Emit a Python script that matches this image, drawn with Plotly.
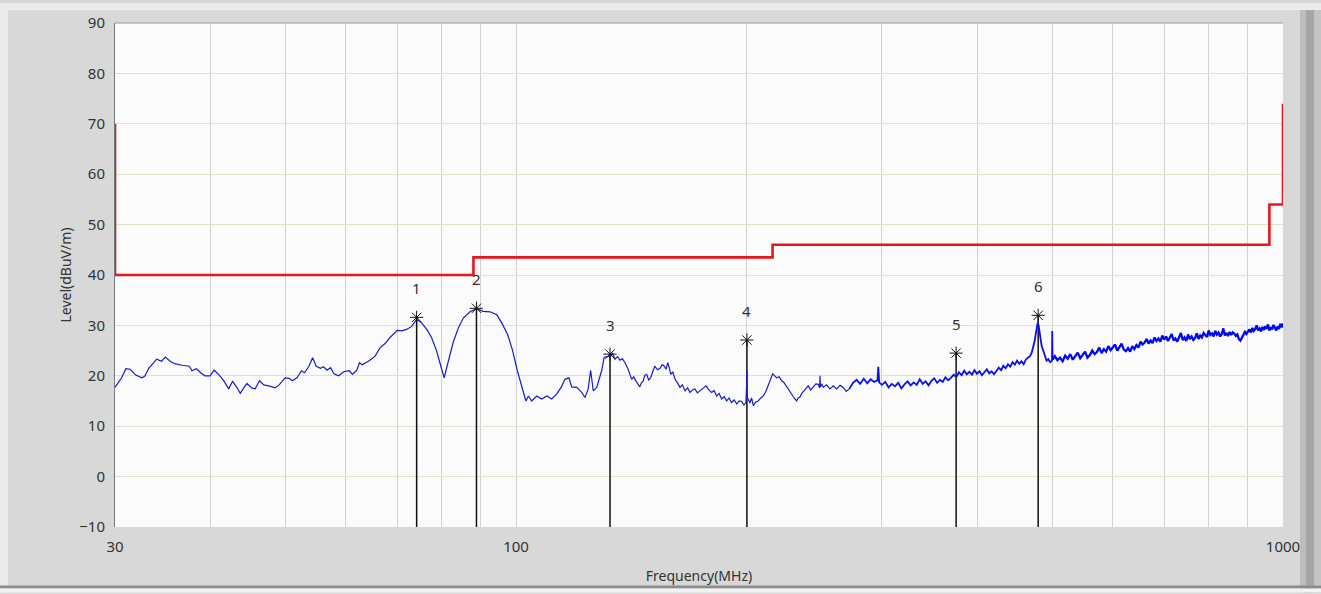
import math
import plotly.graph_objects as go

# ---------------------------------------------------------------------------
# Measured spectrum (frequency in MHz, level in dBuV/m), split by band
# ---------------------------------------------------------------------------
freq_a = [30.0, 30.3, 30.6, 31.0, 31.4, 31.9, 32.5, 32.8, 33.2, 33.7,
          34.0, 34.5, 34.9, 35.4, 35.9, 36.7, 37.5, 37.8, 38.3, 38.8,
          39.3, 39.9, 40.4, 41.0, 41.6, 42.2, 42.7, 43.3, 43.7, 44.2,
          44.6, 45.2, 45.7, 46.3, 46.9, 47.6, 48.5, 49.1, 50.0, 50.6,
          51.1, 51.8, 52.5, 53.0, 53.7, 54.3, 54.9, 55.6, 56.1, 56.7,
          57.3, 57.9, 58.7, 59.6, 60.6, 61.2, 62.0, 62.5, 63.0]
level_a = [17.7, 18.7, 19.6, 21.4, 21.3, 20.2, 19.6, 19.9, 21.5, 22.6,
           23.3, 22.9, 23.7, 22.9, 22.4, 22.1, 21.9, 21.0, 21.4, 20.6,
           20.0, 20.0, 21.1, 20.2, 19.0, 17.4, 18.9, 17.6, 16.5, 17.7,
           18.5, 17.6, 17.4, 19.0, 18.2, 18.0, 17.6, 18.2, 19.6, 19.5,
           19.0, 19.6, 21.0, 20.6, 21.9, 23.6, 21.9, 21.5, 21.8, 21.1,
           21.6, 20.4, 20.0, 20.8, 21.0, 20.3, 21.1, 22.6, 22.2]

freq_b = [64.2, 65.5, 66.5, 67.5, 68.5, 69.5, 70.0, 71.0, 72.0, 73.1,
          74.2, 75.3, 76.5, 77.6, 78.8, 79.8, 80.6, 81.2, 82.0, 82.8,
          84.1, 85.4, 87.1, 88.8, 90.6, 92.5, 94.4, 95.8, 97.5, 98.9,
          100.4, 101.7, 103.0, 103.8, 104.8, 106.4, 108.0, 109.7, 111.3, 113.0,
          114.5, 115.8, 117.2, 118.2, 120.0, 121.8, 123.0, 124.2, 125.1, 126.1,
          127.4, 129.3, 130.3]
level_b = [22.9, 23.9, 25.6, 26.4, 27.6, 28.5, 29.0, 28.9, 29.2, 29.8,
           31.2, 30.5, 29.2, 27.6, 24.9, 21.9, 19.6, 21.6, 24.3, 26.6,
           29.5, 31.5, 32.7, 33.3, 32.8, 32.7, 32.1, 30.5, 28.2, 25.2,
           21.0, 18.0, 15.0, 16.0, 15.0, 16.0, 15.4, 16.0, 15.4, 16.4,
           17.7, 19.3, 19.6, 17.8, 17.7, 16.7, 15.7, 17.4, 21.1, 17.0,
           17.7, 21.0, 23.7]

freq_c = [132.6, 133.6, 134.6, 135.6, 136.6, 137.6, 138.7, 140.0, 141.5, 142.4,
          143.3, 144.2, 145.0, 145.7, 146.5, 147.2, 148.0, 148.9, 149.8, 150.7,
          151.7, 152.9, 154.1, 155.1, 156.1, 156.9, 157.7, 158.4, 159.1, 160.1,
          161.2, 162.4, 163.6, 164.8, 166.1, 167.4, 168.6, 169.9, 171.1, 172.4,
          173.7, 175.3, 176.9, 178.4, 179.9, 181.2, 182.6, 184.0, 185.4, 186.8,
          188.2, 189.6, 191.0, 192.5, 194.0, 195.4, 196.9, 198.2, 199.4, 199.8,
          200.0, 200.2, 200.8, 201.8, 202.8, 203.9, 205.4, 206.9, 208.5, 210.1,
          211.7, 213.3, 214.7, 216.1, 217.4, 218.7, 220.3, 222.0, 223.7, 225.4,
          227.1, 228.8, 230.5, 232.2, 233.3, 234.5, 236.0, 237.4, 238.9, 240.4,
          242.2, 244.1, 246.0, 247.8, 248.8, 249.1, 249.4, 250.4, 251.5, 254.0,
          256.6, 259.2, 261.8, 264.5, 267.1, 269.5, 272.0]
level_c = [23.9, 24.4, 23.3, 23.8, 23.1, 23.4, 22.6, 21.3, 19.3, 19.8,
           19.0, 18.4, 17.8, 18.6, 19.0, 20.1, 20.3, 19.2, 19.6, 20.8,
           21.9, 21.2, 21.5, 22.2, 21.9, 21.3, 22.6, 21.6, 20.3, 20.8,
           19.3, 18.6, 17.7, 18.2, 17.0, 17.6, 16.7, 17.2, 17.4, 16.6,
           17.0, 17.6, 18.0, 17.2, 16.7, 17.1, 16.0, 16.5, 15.4, 15.9,
           15.0, 15.6, 14.7, 15.2, 14.4, 15.0, 14.9, 14.2, 14.7, 18.0,
           21.0, 15.8, 15.4, 14.6, 15.6, 14.1, 14.8, 15.0, 15.6, 16.0,
           16.9, 18.3, 19.4, 20.4, 20.0, 19.6, 19.8, 19.0, 18.6, 17.8,
           17.2, 16.4, 15.6, 15.0, 15.6, 15.8, 16.6, 17.0, 17.6, 18.0,
           17.2, 17.7, 18.4, 18.3, 17.6, 20.0, 17.8, 18.4, 17.7, 18.2,
           17.4, 18.0, 17.4, 18.1, 17.7, 16.9, 17.4]

freq_d = [275.0, 278.0, 281.0, 284.0, 287.0, 290.0, 293.0, 296.0, 296.7, 297.5,
          300.0, 303.0, 306.0, 309.0, 312.0, 315.0, 318.0, 321.0, 324.0, 327.0,
          330.0, 333.0, 336.0, 339.0, 342.0, 345.0, 348.0, 351.0, 354.0, 357.0,
          360.0, 363.0, 366.0, 369.0, 372.0, 375.0, 378.0, 381.0, 384.0, 387.0,
          390.0, 393.0, 396.0, 399.0, 402.0, 405.0, 408.0, 411.0, 414.0, 417.0,
          420.0, 423.0, 426.0, 429.0, 432.0, 435.0, 438.0, 441.0, 444.0, 447.0,
          450.0, 453.0, 456.0, 459.0, 462.0, 465.0, 467.9, 470.3, 472.6, 474.3,
          475.9, 477.4, 478.8, 480.2, 481.7, 483.1, 484.6, 487.0, 489.4, 491.8,
          494.3, 497.2, 499.8, 500.2, 500.6]
level_d = [18.6, 19.2, 18.4, 19.4, 18.5, 19.3, 18.8, 19.1, 21.8, 18.7,
           18.2, 18.8, 17.7, 18.4, 17.9, 18.6, 17.5, 18.3, 18.9, 18.1,
           18.7, 18.2, 19.3, 18.4, 18.9, 18.1, 19.0, 19.5, 18.6, 19.2,
           18.8, 19.7, 19.1, 19.6, 20.2, 19.8, 20.7, 20.1, 21.0, 20.3,
           20.8, 20.2, 21.1, 20.4, 20.9, 20.1, 20.6, 21.3, 20.5, 20.9,
           20.3, 21.0, 21.6, 21.1, 22.0, 21.5, 22.3, 21.8, 22.7, 22.2,
           23.0, 22.4, 22.9, 22.3, 23.2, 23.6, 23.9, 24.6, 25.6, 26.8,
           28.2, 29.6, 30.5, 30.0, 28.9, 27.2, 25.9, 24.8, 23.9, 23.0,
           23.3, 22.7, 23.0, 28.9, 23.2]

freq_e = [504, 508, 512, 516, 520, 524, 528, 532, 536, 540,
          544, 548, 552, 556, 560, 564, 568, 572, 576, 580,
          584, 588, 592, 596, 600, 604, 608, 612, 616, 620,
          624, 628, 632, 636, 640, 644, 648, 652, 656, 660,
          664, 668, 672, 676, 680, 684, 688, 692, 696, 700,
          704, 708, 712, 716, 720, 724, 728, 732, 736, 740,
          744, 748, 752, 756, 760, 764, 768, 772, 776, 780,
          784, 788, 792, 796, 800, 804, 808, 812, 816, 820,
          824, 828, 832, 836, 840, 844, 848, 852, 856, 860,
          864, 868, 872, 876, 880, 884, 888, 892, 896, 900,
          904, 908, 912, 916, 920, 924, 928, 932, 936, 940,
          944, 948, 952, 956, 960, 964, 968, 972, 976, 980,
          984, 988, 992, 996, 1000]
level_e = [23.9, 23.1, 23.6, 22.9, 24.0, 23.4, 24.3, 23.2, 23.8, 24.6,
           23.5, 24.2, 24.8, 23.6, 24.1, 25.0, 24.3, 24.7, 25.6, 24.5,
           25.3, 24.8, 25.9, 25.1, 25.6, 26.2, 25.0, 25.7, 26.4, 25.2,
           24.9, 25.5, 24.8, 25.9, 25.3, 26.1, 25.6, 26.8, 26.2, 26.6,
           27.3, 26.4, 27.0, 26.5, 27.6, 26.9, 27.4, 26.8, 28.0, 27.2,
           27.8, 26.9, 27.5, 28.3, 27.0, 27.4, 26.8, 27.7, 28.5, 27.1,
           27.6, 26.9, 28.2, 27.3, 27.8, 27.1, 27.5, 28.4, 27.3, 28.0,
           27.6, 28.5, 28.0, 27.7, 29.0, 28.1, 28.4, 27.8, 28.9, 28.2,
           28.6, 27.8, 28.3, 29.4, 28.0, 28.5, 27.9, 28.7, 28.1, 28.6,
           28.4, 27.9, 28.2, 27.3, 27.0, 27.6, 28.0, 28.7, 28.3, 28.9,
           29.2, 28.6, 29.5, 28.9, 29.3, 30.0, 29.0, 29.4, 28.8, 29.7,
           29.1, 29.8, 29.3, 30.2, 29.0, 29.6, 29.2, 30.1, 29.4, 29.0,
           29.8, 29.3, 30.3, 29.6, 30.4]

# Limit line (stepped), MHz / dBuV/m
limit_freq = [30, 30, 88, 88, 216, 216, 960, 960, 1000, 1000]
limit_level = [70, 40, 40, 43.5, 43.5, 46, 46, 54, 54, 74]

# Peak markers
marker_no = ["1", "2", "3", "4", "5", "6"]
marker_freq = [74.2, 88.8, 132.6, 200.0, 374.8, 479.5]
marker_level = [31.6, 33.4, 24.3, 27.1, 24.5, 32.0]

# Axis ticks
x_grid = [30, 40, 50, 60, 70, 80, 90, 100, 200, 300, 400, 500, 600, 700, 800, 900, 1000]
x_labels = ["30", "", "", "", "", "", "", "100", "", "", "", "", "", "", "", "", "1000"]
y_ticks = [-10, 0, 10, 20, 30, 40, 50, 60, 70, 80, 90]

low_freq = freq_a + freq_b + freq_c
low_level = level_a + level_b + level_c
mid_freq = [freq_c[-1]] + freq_d
mid_level = [level_c[-1]] + level_d
high_freq = [freq_d[-1]] + freq_e
high_level = [level_d[-1]] + level_e

Y_MIN, Y_MAX = -10, 90

fig = go.Figure()

# Marker drop lines from the bottom of the scale up to each peak
drop_x, drop_y = [], []
for f, lv in zip(marker_freq, marker_level):
    drop_x += [f, f, None]
    drop_y += [Y_MIN, lv, None]
fig.add_trace(go.Scatter(x=drop_x, y=drop_y, mode="lines",
                         line=dict(color="#111111", width=1.5),
                         hoverinfo="skip", showlegend=False))

fig.add_trace(go.Scatter(x=limit_freq, y=limit_level, mode="lines",
                         line=dict(color="#e8161b", width=2.6),
                         name="Limit", showlegend=False))

# Spectrum: the sparse low band is drawn thin, the dense upper bands heavier
fig.add_trace(go.Scatter(x=low_freq, y=low_level, mode="lines",
                         line=dict(color="#1a1ac8", width=1.2),
                         name="Level", showlegend=False))
fig.add_trace(go.Scatter(x=mid_freq, y=mid_level, mode="lines",
                         line=dict(color="#0a10e6", width=1.8),
                         name="Level", showlegend=False))
fig.add_trace(go.Scatter(x=high_freq, y=high_level, mode="lines",
                         line=dict(color="#0008f0", width=2.3),
                         name="Level", showlegend=False))

fig.add_trace(go.Scatter(x=marker_freq, y=marker_level, mode="markers",
                         marker=dict(symbol="asterisk-open", size=11, color="#111111",
                                     line=dict(color="#111111", width=1)),
                         cliponaxis=False, showlegend=False))

for n, f, lv in zip(marker_no, marker_freq, marker_level):
    fig.add_annotation(x=math.log10(f), y=lv, text=n, showarrow=False, yshift=29,
                       font=dict(family="Noto Sans, Open Sans, sans-serif",
                                 size=15, color="#333333"))

# Page geometry
W_PX, H_PX = 1321, 594
ML, MR, MT, MB = 115, 38, 20, 66
PW, PH = W_PX - ML - MR, H_PX - MT - MB


def px_x(px):
    return (px - ML) / PW


def px_y(py):
    return (H_PX - MB - py) / PH


frame = [
    # light bevel on the top and left of the panel
    dict(x0=px_x(0), x1=px_x(W_PX), y0=px_y(0), y1=px_y(7), color="#ececec"),
    dict(x0=px_x(0), x1=px_x(8), y0=px_y(0), y1=px_y(H_PX), color="#ebebeb"),
    # darker bevel on the right edge
    dict(x0=px_x(1300), x1=px_x(1306), y0=px_y(7), y1=px_y(H_PX), color="#bdbdbd"),
    dict(x0=px_x(1306), x1=px_x(1314), y0=px_y(7), y1=px_y(H_PX), color="#a6a6a6"),
    dict(x0=px_x(1314), x1=px_x(W_PX), y0=px_y(7), y1=px_y(H_PX), color="#c4c4c4"),
    # bottom edge
    dict(x0=px_x(0), x1=px_x(W_PX), y0=px_y(587), y1=px_y(590), color="#8c8c8c"),
    dict(x0=px_x(0), x1=px_x(W_PX), y0=px_y(590), y1=px_y(H_PX), color="#f2f2f2"),
]
for s in frame:
    fig.add_shape(type="rect", xref="paper", yref="paper",
                  x0=s["x0"], x1=s["x1"], y0=s["y0"], y1=s["y1"],
                  fillcolor=s["color"], line=dict(width=0), layer="below")

# thin frame line along the top of the plotting area
fig.add_shape(type="line", xref="paper", yref="paper", x0=0, x1=1, y0=1, y1=1,
              line=dict(color="#9a9a9a", width=1), layer="above")

font_family = "Noto Sans, Open Sans, DejaVu Sans, sans-serif"

fig.update_layout(
    width=W_PX, height=H_PX,
    margin=dict(l=ML, r=MR, t=MT, b=MB),
    paper_bgcolor="#d8d8d8",
    plot_bgcolor="#fbfbfb",
    showlegend=False,
    font=dict(family=font_family, color="#333333"),
    xaxis=dict(
        type="log", range=[math.log10(30), 3.0],
        tickmode="array", tickvals=x_grid, ticktext=x_labels,
        showgrid=True, gridcolor="#d2d2d2", gridwidth=1,
        zeroline=False, showline=False, ticks="", ticklabelstandoff=9,
        tickfont=dict(size=15, color="#333333"),
        title=dict(text="Frequency(MHz)", font=dict(size=14, color="#333333"), standoff=16),
    ),
    yaxis=dict(
        range=[Y_MIN, Y_MAX],
        tickmode="array", tickvals=y_ticks,
        showgrid=True, gridcolor="#e4e0cf", gridwidth=1,
        zeroline=False, showline=True, linecolor="#7a7a7a", linewidth=1,
        ticks="", ticklabelstandoff=6,
        tickfont=dict(size=15, color="#333333"),
        title=dict(text="Level(dBuV/m)", font=dict(size=14, color="#333333"), standoff=4),
    ),
)

fig.write_html("out.html")
